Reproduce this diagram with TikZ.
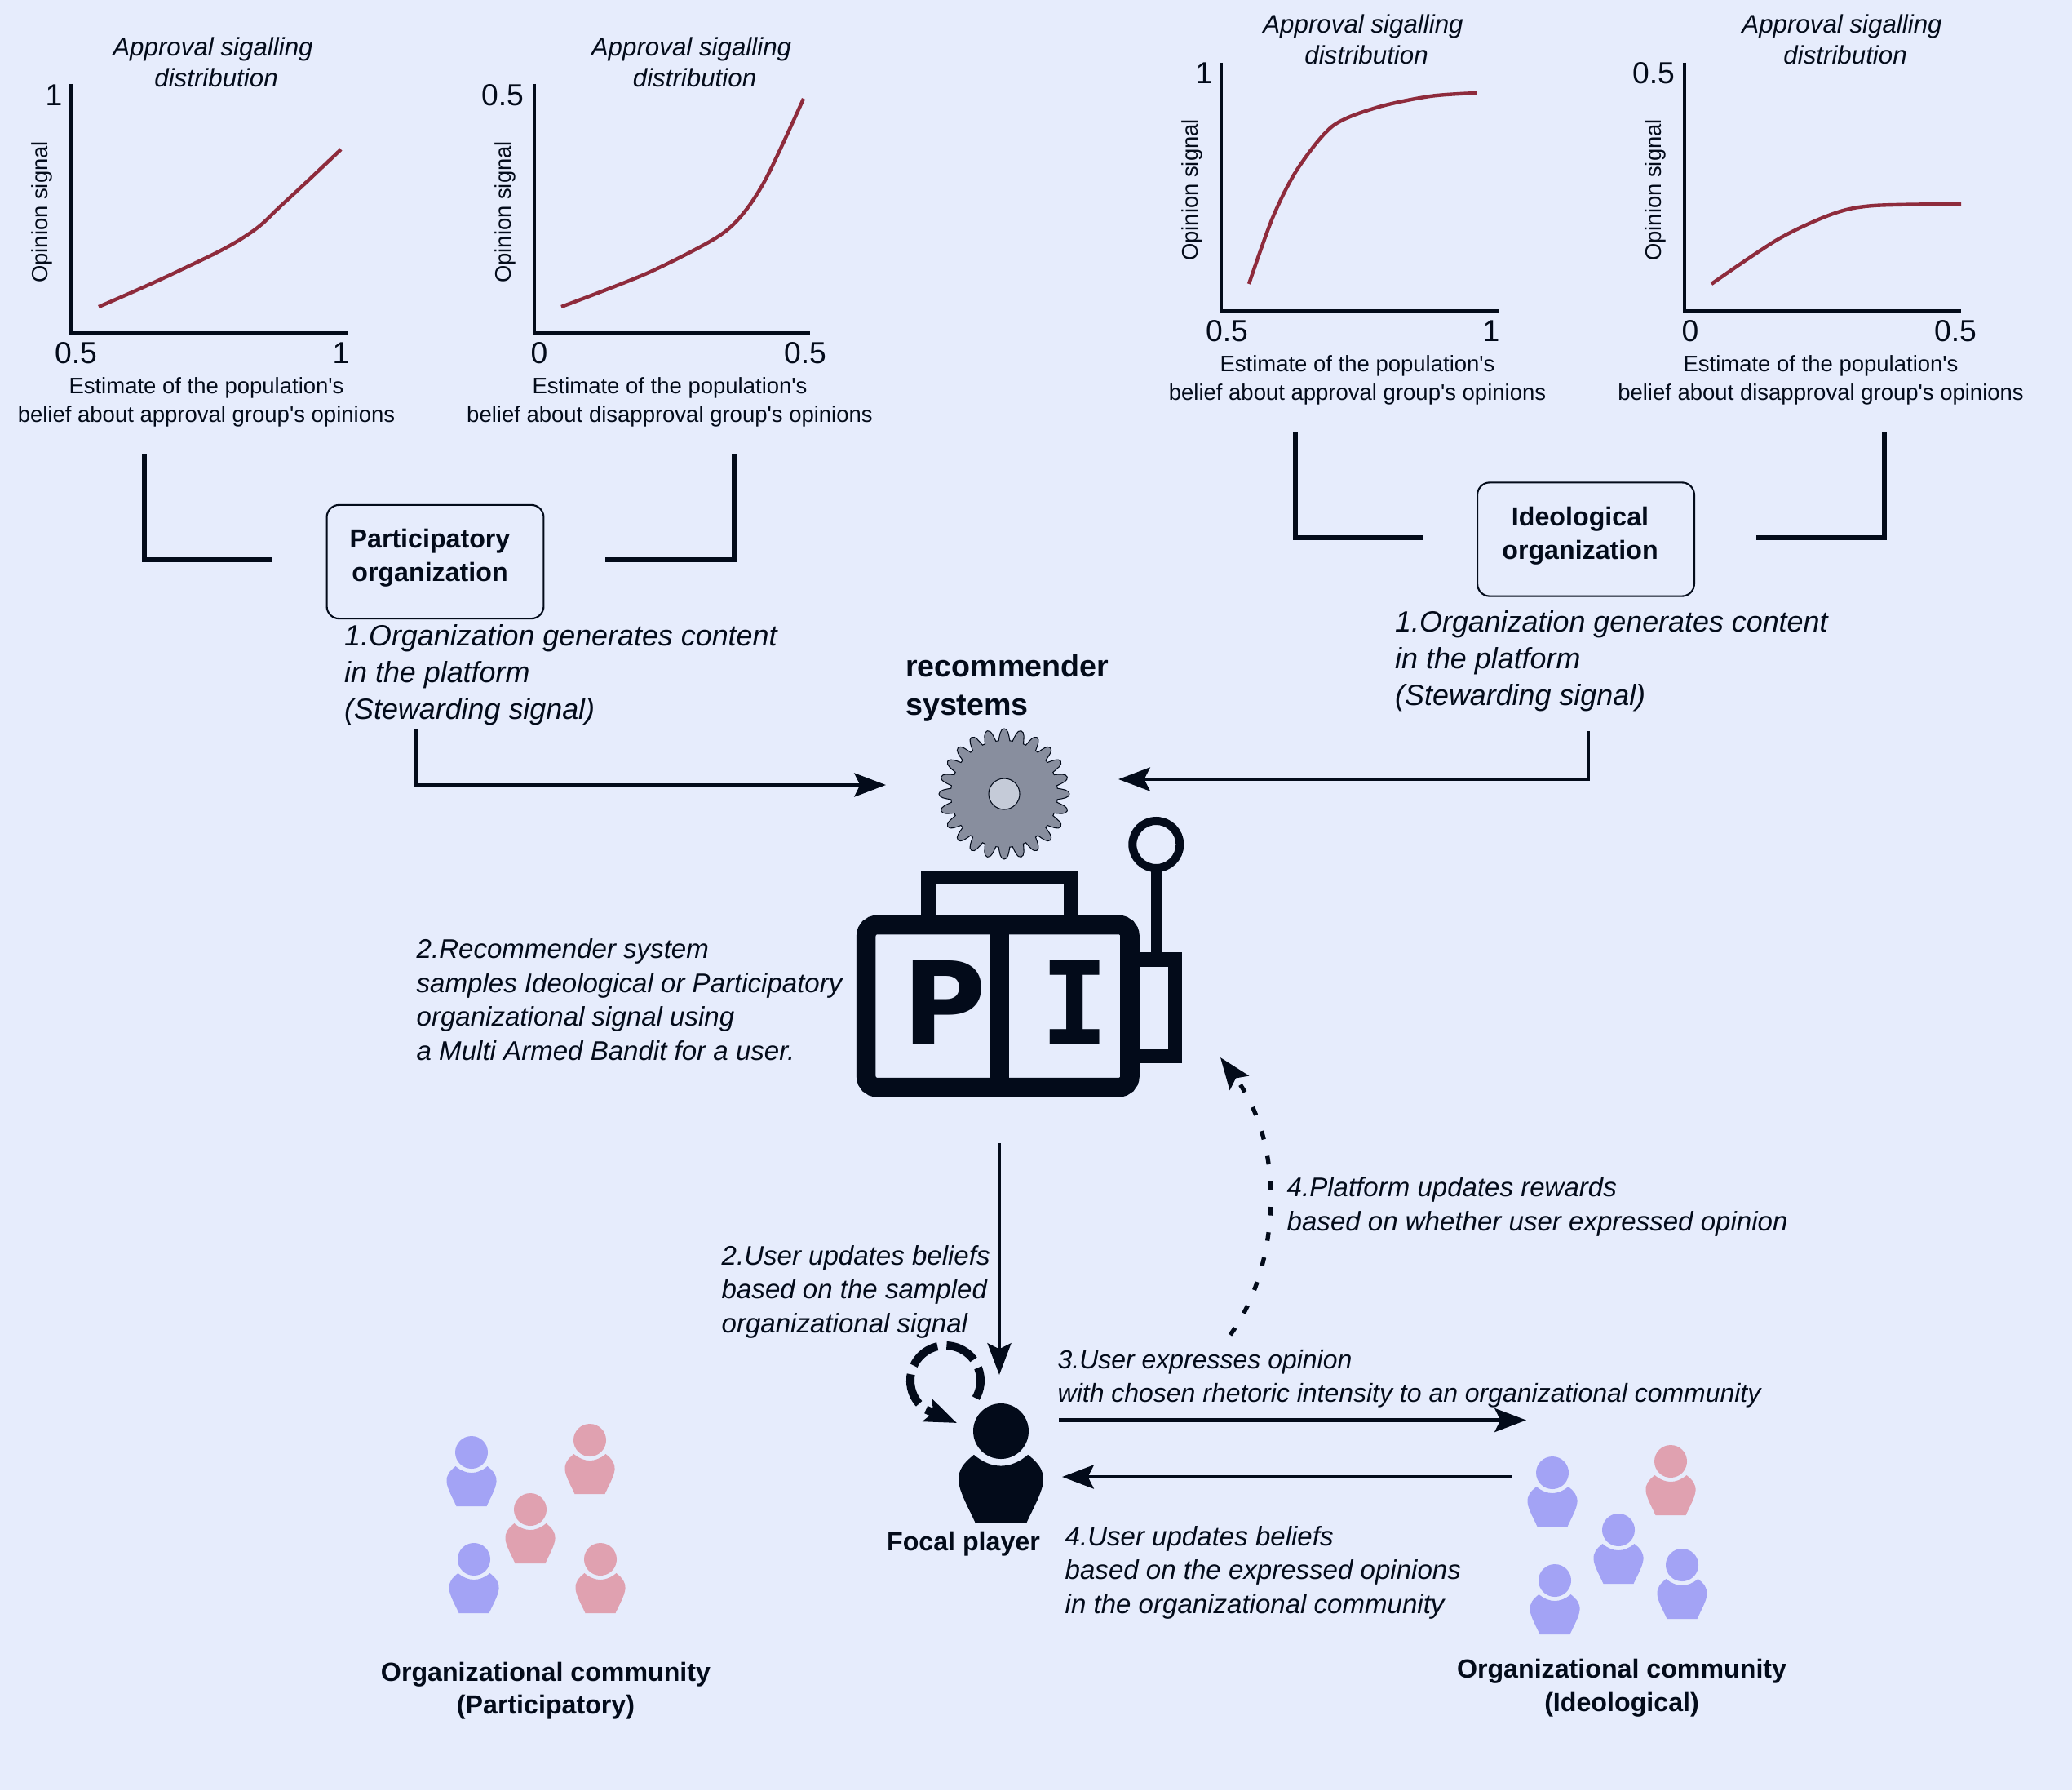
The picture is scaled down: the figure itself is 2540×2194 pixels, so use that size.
\documentclass[tikz,border=0pt]{standalone}
\usepackage{fontspec}
\setmainfont{Liberation Sans}
\newfontfamily\slotfont{DejaVu Sans Mono}
\newfontfamily\slotsans{DejaVu Sans}
\usepackage{tikz}
\usetikzlibrary{arrows.meta}
\definecolor{pagebg}{HTML}{E6ECFC}
\definecolor{ink}{HTML}{030B1A}
\definecolor{curvered}{HTML}{8E2B3C}
\definecolor{commblue}{HTML}{A3A3F5}
\definecolor{commpink}{HTML}{E0A1B0}
\definecolor{gearbody}{HTML}{888E9E}
\definecolor{gearhub}{HTML}{C5CBD8}
\tikzset{
	every node/.style = {text = ink, inner sep = 0pt},
	axisline/.style = {draw = ink, line width = 1.25pt},
	curveline/.style = {draw = curvered, line width = 1.25pt},
	elbowline/.style = {draw = ink, line width = 1.45pt},
	flowline/.style = {draw = ink, line width = 1.4pt, -{Stealth[length = 11pt, width = 8.2pt, inset = 2pt]}},
	slotline/.style = {draw = ink, line width = 4.85pt},
	charttitle/.style = {align = center, font = \fontsize{8.9}{10.8}\selectfont\itshape},
	chartnote/.style = {align = center, font = \fontsize{7.82}{9.95}\selectfont},
	ticklabel/.style = {font = \fontsize{10.6}{12}\selectfont},
	ylabel/.style = {rotate = 90, font = \fontsize{7.8}{9.6}\selectfont},
	orgbox/.style = {draw = ink, line width = 0.6pt, rounded corners = 4.3pt, minimum width = 75.6pt, minimum height = 39.6pt},
	boldlabel/.style = {align = center, font = \fontsize{9.15}{11.55}\selectfont\bfseries},
	stepbig/.style = {anchor = west, align = left, font = \fontsize{10.2}{12.85}\selectfont\itshape},
	stepsmall/.style = {anchor = west, align = left, font = \fontsize{9.4}{11.8}\selectfont\itshape},
	memberblue/.style = {fill = commblue},
	memberpink/.style = {fill = commpink},
	memberink/.style = {fill = ink, scale = 1.7},
	person/.pic = {
		\fill (0,0) circle (20);
		\fill (-19.5,17) .. controls (-7,27.7) and (7,27.7) .. (19.5,17) .. controls (27,23) and (31,28) .. (30.5,36) .. controls (30,44) and (23,56) .. (18.5,66) -- (-18.5,66) .. controls (-23,56) and (-30,44) .. (-30.5,36) .. controls (-31,28) and (-27,23) .. (-19.5,17) -- cycle;
	}
}

\begin{document}
\begin{tikzpicture}[x = 0.01cm, y = -0.01cm]
	\fill[pagebg] (0,0) rectangle (2540,2194);
	\useasboundingbox (0,0) rectangle (2540,2194);

	% first chart
	\draw[axisline] (87,103) -- (87,408) -- (426,408);
	\draw[curveline] plot[smooth, tension = 0.7] coordinates {(121,376) (217,333) (300,290) (350,247) (418,183)};
	\node[charttitle] (titleA) at (261,76) {Approval sigalling\\\hspace*{2.3pt}distribution};
	\node[ylabel] (signalA) at (51,260) {Opinion signal};
	\node[ticklabel] (topA) at (66,117) {1};
	\node[ticklabel] (lowA) at (93,433) {0.5};
	\node[ticklabel] (highA) at (418,433) {1};
	\node[chartnote] (noteA) at (253,493) {Estimate of the population\textquotesingle s\\belief about approval group\textquotesingle s opinions};

	% second chart
	\draw[axisline] (655,103) -- (655,408) -- (993,408);
	\draw[curveline] plot[smooth] coordinates {(688,376) (793,335) (877,292) (910,263) (940,217) (985,121)};
	\node[charttitle] (titleB) at (847.5,76) {Approval sigalling\\\hspace*{2.3pt}distribution};
	\node[ylabel] (signalB) at (619,260) {Opinion signal};
	\node[ticklabel] (topB) at (616,117) {0.5};
	\node[ticklabel] (lowB) at (661,433) {0};
	\node[ticklabel] (highB) at (987,433) {0.5};
	\node[chartnote] (noteB) at (821,493) {Estimate of the population\textquotesingle s\\belief about disapproval group\textquotesingle s opinions};

	% third chart
	\draw[axisline] (1497,77) -- (1497,381) -- (1837,381);
	\draw[curveline] plot[smooth] coordinates {(1531,348) (1560,267) (1590,208) (1633,155) (1687,132) (1753,118) (1810,114)};
	\node[charttitle] (titleC) at (1671,48.5) {Approval sigalling\\\hspace*{2.3pt}distribution};
	\node[ylabel] (signalC) at (1461,233) {Opinion signal};
	\node[ticklabel] (topC) at (1476,90) {1};
	\node[ticklabel] (lowC) at (1504,406) {0.5};
	\node[ticklabel] (highC) at (1828,406) {1};
	\node[chartnote] (noteC) at (1664,466) {Estimate of the population\textquotesingle s\\belief about approval group\textquotesingle s opinions};

	% fourth chart
	\draw[axisline] (2065,77) -- (2065,381) -- (2404,381);
	\draw[curveline] plot[smooth] coordinates {(2098,348) (2180,293) (2247,262) (2297,252) (2404,250)};
	\node[charttitle] (titleD) at (2258,48.5) {Approval sigalling\\\hspace*{2.3pt}distribution};
	\node[ylabel] (signalD) at (2029,233) {Opinion signal};
	\node[ticklabel] (topD) at (2027,90) {0.5};
	\node[ticklabel] (lowD) at (2072,406) {0};
	\node[ticklabel] (highD) at (2397,406) {0.5};
	\node[chartnote] (noteD) at (2232,466) {Estimate of the population\textquotesingle s\\belief about disapproval group\textquotesingle s opinions};

	% organizations
	\node[orgbox] (partbox) at (533.5,688.5) {};
	\node[boldlabel] (partname) at (527,684) {Participatory\\organization};
	\node[orgbox] (ideobox) at (1944,661) {};
	\node[boldlabel] (ideoname) at (1937,657) {Ideological\\organization};

	\coordinate (elbowA) at (177,556);
	\coordinate (elbowAend) at (334,686);
	\coordinate (elbowB) at (900,556);
	\coordinate (elbowBend) at (742,686);
	\coordinate (elbowC) at (1588,530);
	\coordinate (elbowCend) at (1745,659);
	\coordinate (elbowD) at (2310,530);
	\coordinate (elbowDend) at (2153,659);
	\draw[elbowline] (elbowA) |- (elbowAend);
	\draw[elbowline] (elbowB) |- (elbowBend);
	\draw[elbowline] (elbowC) |- (elbowCend);
	\draw[elbowline] (elbowD) |- (elbowDend);

	\node[stepbig] (stepPart) at (421.5,827.5) {1.Organization generates content\\in the platform\\(Stewarding signal)};
	\node[stepbig] (stepIdeo) at (1709.5,810) {1.Organization generates content\\in the platform\\(Stewarding signal)};

	% recommender
	\node[anchor = west, align = left, font = \fontsize{10.7}{13.3}\selectfont\bfseries] (recsys) at (1109.5,843) {recommender\\systems};
	\coordinate (gearcentre) at (1231,973);
	\begin{scope}[shift = {(gearcentre)}]
		\draw[ink, line width = 0.3pt, fill = gearbody] (-6:65.5) \foreach \a in {0,15,...,345} { .. controls (\a-4.5:72) and (\a-3.5:80) .. (\a:80) .. controls (\a+3.5:80) and (\a+4.5:72) .. (\a+6:65.5) -- (\a+9:65.5) } -- cycle;
		\draw[ink, line width = 0.3pt, fill = gearhub] (0,0) circle (19);
	\end{scope}

	\coordinate (inPart) at (510,893);
	\coordinate (inPartend) at (1086,962);
	\coordinate (inIdeo) at (1947,896);
	\coordinate (inIdeoend) at (1371,955);
	\draw[flowline] (inPart) |- (inPartend);
	\draw[flowline] (inIdeo) |- (inIdeoend);

	% slot machine
	\draw[slotline] (1138,1125) -- (1138,1075.7) -- (1313,1075.7) -- (1313,1125);
	\draw[slotline] (1390,1176) -- (1440.8,1176) -- (1440.8,1294.7) -- (1390,1294.7);
	\draw[ink, line width = 3.7pt] (1417.5,1168) -- (1417.5,1060);
	\draw[ink, line width = 2.85pt] (1417.3,1035) circle (29);
	\draw[ink, line width = 6.7pt, rounded corners = 3.8pt] (1061.7,1133.5) rectangle (1385,1332.7);
	\draw[ink, line width = 6.55pt] (1225.5,1133) -- (1225.5,1333);
	\node[font = \fontsize{39.8}{40}\slotsans\bfseries] (slotP) at (1158,1228) {P};
	\node[font = \fontsize{39.8}{40}\slotfont\bfseries] (slotI) at (1318,1228) {I};

	\node[stepsmall] (stepBandit) at (510,1225) {2.Recommender system\\samples Ideological or Participatory\\organizational signal using\\a Multi Armed Bandit for a user.};
	\node[stepsmall] (stepRewards) at (1577,1479) {4.Platform updates rewards\\based on whether user expressed opinion};
	\node[stepsmall] (stepBeliefs) at (884,1583) {2.User updates beliefs\\based on the sampled\\organizational signal};
	\node[stepsmall, font = \fontsize{9.09}{11.55}\selectfont\itshape] (stepExpress) at (1296,1690) {3.User expresses opinion\\with chosen rhetoric intensity to an organizational community};
	\node[stepsmall] (stepCommunity) at (1305,1927) {4.User updates beliefs\\based on the expressed opinions\\in the organizational community};

	% focal player
	\pic[memberink] (focal) at (1227,1754) {person};
	\node[boldlabel] (focalname) at (1181,1892) {Focal player};

	\coordinate (slotout) at (1225,1401);
	\coordinate (focalin) at (1225,1685);
	\draw[flowline] (slotout) -- (focalin);
	\coordinate (expressout) at (1298,1740.5);
	\coordinate (expressin) at (1871,1740.5);
	\draw[flowline] (expressout) -- (expressin);
	\coordinate (beliefout) at (1853,1810);
	\coordinate (beliefin) at (1302,1810);
	\draw[flowline] (beliefout) -- (beliefin);

	\coordinate (rewardout) at (1508,1636);
	\coordinate (rewardin) at (1496,1296);
	\draw[flowline, line width = 1.5pt, dash pattern = on 3pt off 5.9pt] (rewardout) .. controls (1565,1560) and (1581,1410) .. (rewardin);

	\coordinate (loopstart) at (1196.2,1713.5);
	\coordinate (loopend) at (1173,1744);
	\draw[flowline, line width = 2.85pt, dash pattern = on 11pt off 3.2pt] (loopstart) arc (30:-235:43) -- (loopend);

	% communities
	\pic[memberblue] (partA) at (578,1780) {person};
	\pic[memberpink] (partB) at (723,1765) {person};
	\pic[memberpink] (partC) at (650,1850) {person};
	\pic[memberblue] (partD) at (581,1911) {person};
	\pic[memberpink] (partE) at (736,1911) {person};
	\node[boldlabel] (partcomm) at (669,2072) {Organizational community\\(Participatory)};

	\pic[memberblue] (ideoA) at (1903,1805) {person};
	\pic[memberpink] (ideoB) at (2048,1791) {person};
	\pic[memberblue] (ideoC) at (1984,1875) {person};
	\pic[memberblue] (ideoD) at (1906,1937) {person};
	\pic[memberblue] (ideoE) at (2062,1918) {person};
	\node[boldlabel] (ideocomm) at (1988,2069) {Organizational community\\(Ideological)};
\end{tikzpicture}
\end{document}
